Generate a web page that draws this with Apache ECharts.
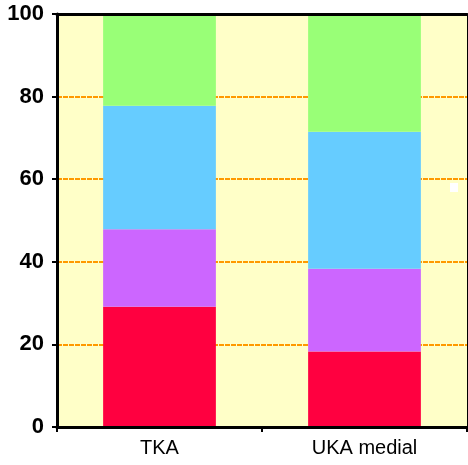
<!DOCTYPE html>
<html>
<head>
<meta charset="utf-8">
<script src="https://cdn.jsdelivr.net/npm/echarts@6/dist/echarts.min.js"></script>
<style>
  html, body { margin: 0; padding: 0; background: #ffffff; }
  #chart { width: 468px; height: 465px; }
</style>
</head>
<body>
<div id="chart"></div>
<script>
// Categories and stacked segment values (percent)
const categories = ['TKA', 'UKA medial'];
const redValues = [29.1, 18.3];
const purpleValues = [18.8, 20.0];
const blueValues = [29.9, 33.2];
const greenValues = [22.2, 28.5];
const yTicks = [0, 20, 40, 60, 80, 100];

const colors = {
  red: '#FF0040',
  purple: '#CC66FF',
  blue: '#66CCFF',
  green: '#99FF77'
};

function stackSeries(name, data, color) {
  return {
    name: name,
    type: 'bar',
    stack: 'total',
    data: data,
    barWidth: '55%',
    itemStyle: { color: color },
    emphasis: { disabled: true },
    xAxisIndex: 0,
    yAxisIndex: 0
  };
}

const chart = echarts.init(document.getElementById('chart'), null, { renderer: 'canvas' });

chart.setOption({
  animation: false,
  backgroundColor: '#ffffff',
  grid: {
    left: 57, right: 1, top: 14, bottom: 38,
    show: true,
    backgroundColor: '#FFFFC8',
    borderWidth: 0
  },
  xAxis: [
    {
      type: 'category',
      position: 'bottom',
      data: categories,
      axisLine: { show: true, onZero: false, lineStyle: { color: '#000', width: 3 } },
      axisTick: { show: true, length: 5, lineStyle: { color: '#000', width: 2 } },
      axisLabel: {
        color: '#000', fontSize: 20, fontFamily: 'Liberation Sans, Arial, sans-serif',
        fontWeight: 'normal', margin: 11
      },
      splitLine: { show: false },
      z: 10
    },
    {
      type: 'category',
      position: 'top',
      data: categories,
      axisLine: { show: true, onZero: false, lineStyle: { color: '#000', width: 3 } },
      axisTick: { show: false },
      axisLabel: { show: false },
      splitLine: { show: false },
      z: 10
    }
  ],
  yAxis: [
    {
      type: 'value',
      position: 'left',
      min: yTicks[0],
      max: yTicks[yTicks.length - 1],
      interval: 20,
      axisLine: { show: true, onZero: false, lineStyle: { color: '#000', width: 3 } },
      axisTick: { show: true, length: 5, lineStyle: { color: '#000', width: 2 } },
      axisLabel: {
        color: '#000', fontSize: 22, fontWeight: 'bold',
        fontFamily: 'Liberation Sans, Arial, sans-serif', margin: 13
      },
      splitLine: {
        show: true,
        showMinLine: false,
        showMaxLine: false,
        lineStyle: { color: '#FF9900', width: 2, type: [5, 1] }
      }
    },
    {
      type: 'value',
      position: 'right',
      min: 0,
      max: 100,
      axisLine: { show: true, onZero: false, lineStyle: { color: '#000', width: 1 } },
      axisTick: { show: false },
      axisLabel: { show: false },
      splitLine: { show: false },
      z: 10
    }
  ],
  series: [
    stackSeries('red', redValues, colors.red),
    stackSeries('purple', purpleValues, colors.purple),
    stackSeries('blue', blueValues, colors.blue),
    stackSeries('green', greenValues, colors.green)
  ],
  graphic: [
    {
      type: 'rect',
      shape: { x: 450, y: 183, width: 8, height: 9 },
      style: { fill: '#ffffff' },
      z: 100
    }
  ]
});
</script>
</body>
</html>
